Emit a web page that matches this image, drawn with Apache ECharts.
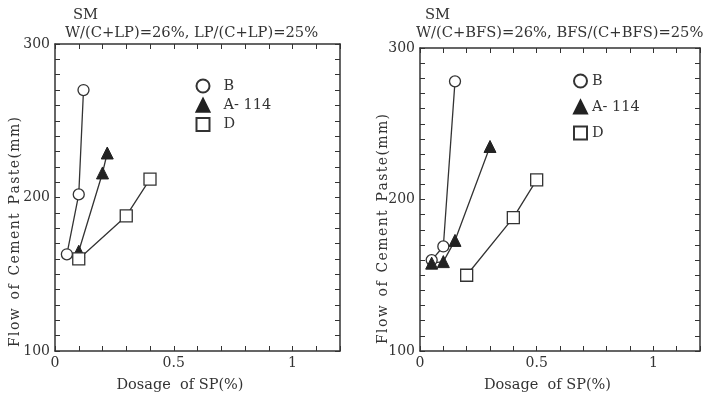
<!DOCTYPE html>
<html><head><meta charset="utf-8">
<script src="https://cdn.jsdelivr.net/npm/echarts@6/dist/echarts.min.js"></script>
<style>html,body{margin:0;padding:0;background:#fff}#c{width:706px;height:398px}</style>
</head><body><div id="c"></div>
<script>
// Left panel (LP)
const lpB = [[0.05,163],[0.10,202],[0.12,270]];
const lpA = [[0.10,165],[0.20,216],[0.22,229]];
const lpD = [[0.10,160],[0.30,188],[0.40,212]];
// Right panel (BFS)
const bfsB = [[0.05,160],[0.10,169],[0.15,278]];
const bfsA = [[0.05,158],[0.10,159],[0.15,173],[0.30,235]];
const bfsD = [[0.20,150],[0.40,188],[0.50,213]];
const seriesNames = ['B','A- 114','D'];
const titleTop = 'SM';
const titleLeft = 'W/(C+LP)=26%, LP/(C+LP)=25%';
const titleRight = 'W/(C+BFS)=26%, BFS/(C+BFS)=25%';
const xName = 'Dosage  of SP(%)';
const yNamePlain = 'Flow of Cement Paste(mm)';
const HS = '\u200A';
const yName = yNamePlain.split(' ').map(w => w.split('').join(HS)).join('  ');

const FONT = 'DejaVu Serif';
const INK = '#333';

// fit y title to the reference length
const cv = document.createElement('canvas').getContext('2d');
cv.font = '13px "DejaVu Serif"';
const yW13 = cv.measureText(yName).width;
const yFont = Math.min(14, 13 * 231 / yW13);

const chart = echarts.init(document.getElementById('c'), null, {renderer:'canvas'});

function xAx(grid, pos, main, shift){
  return {type:'value', gridIndex:grid, position:pos, min:0, max:1.2, interval:0.1,
    name: main ? xName : '', nameLocation:'middle', nameGap: 27,
    nameTextStyle:{fontFamily:FONT, fontSize:14.5, color:INK, padding:[0, shift*2, 0, 0]},
    axisLine:{show:true, onZero:false, lineStyle:{color:INK, width:1.5}},
    axisTick:{show:true, inside:true, length:5, lineStyle:{color:INK, width:1}},
    splitLine:{show:false},
    axisLabel:{show:main, margin:5, fontFamily:FONT, fontSize:14, color:INK,
      formatter:v=>{const r=Math.round(v*2)/2; return Math.abs(v-r)<1e-6 ? String(r) : '';}}
  };
}
function yAx(grid, pos, main){
  return {type:'value', gridIndex:grid, position:pos, min:100, max:300, interval:10,
    axisLine:{show:true, onZero:false, lineStyle:{color:INK, width:1.5}},
    axisTick:{show:true, inside:true, length:5, lineStyle:{color:INK, width:1}},
    splitLine:{show:false},
    axisLabel:{show:main, margin:5, fontFamily:FONT, fontSize:14, color:INK,
      formatter:v=> (Math.round(v)%100===0 ? String(Math.round(v)) : '')}
  };
}
const styles = {
  'B': {symbol:'circle', symbolSize:11, itemStyle:{color:'#fff', borderColor:INK, borderWidth:1.3}},
  'A- 114': {symbol:'triangle', symbolSize:12, itemStyle:{color:'#222', borderColor:'#222', borderWidth:1}},
  'D': {symbol:'rect', symbolSize:12, itemStyle:{color:'#fff', borderColor:INK, borderWidth:1.3}}
};
function ser(name, data, idx){
  return Object.assign({type:'line', name, data, xAxisIndex:idx*2, yAxisIndex:idx*2,
    lineStyle:{color:INK, width:1.3}, showAllSymbol:true, animation:false, z:3}, styles[name]);
}
function legend(left, top, gap, textPad){
  return {orient:'vertical', left, top, itemGap:gap, itemWidth:13, itemHeight:13, padding:0,
    textStyle:{fontFamily:FONT, fontSize:14.5, lineHeight:13, color:INK, padding:[0,0,0,textPad]},
    data: seriesNames.map(n=>({name:n, icon: styles[n].symbol}))};
}
function yTitle(x, y){
  return {type:'text', x, y, rotation:Math.PI/2,
    style:{text:yName, fontFamily:FONT, fontSize:yFont, fill:INK, align:'center', verticalAlign:'middle'}};
}
const tStyle = {fontFamily:FONT, fontSize:14.7, fontWeight:'normal', color:INK};
chart.setOption({
  animation:false,
  backgroundColor:'#fff',
  title:[
    {text:titleTop, left:73, top:8, padding:0, textStyle:tStyle},
    {text:titleLeft, left:65, top:26, padding:0, textStyle:tStyle},
    {text:titleTop, left:425, top:8, padding:0, textStyle:tStyle},
    {text:titleRight, left:416, top:26, padding:0, textStyle:tStyle}
  ],
  graphic:[yTitle(15, 232), yTitle(383, 229)],
  legend:[legend(195.5, 78.5, 4.3, 9), legend(573, 73.5, 11, 0)],
  grid:[{left:55, top:44, width:285, height:310},{left:420, top:48, width:280, height:307}],
  xAxis:[xAx(0,'bottom',true,17.5), xAx(0,'top',false,0), xAx(1,'bottom',true,12.5), xAx(1,'top',false,0)],
  yAxis:[yAx(0,'left',true), yAx(0,'right',false), yAx(1,'left',true), yAx(1,'right',false)],
  series:[
    ser('B', lpB, 0), ser('A- 114', lpA, 0), ser('D', lpD, 0),
    ser('B', bfsB, 1), ser('A- 114', bfsA, 1), ser('D', bfsD, 1)
  ]
});
</script></body></html>
